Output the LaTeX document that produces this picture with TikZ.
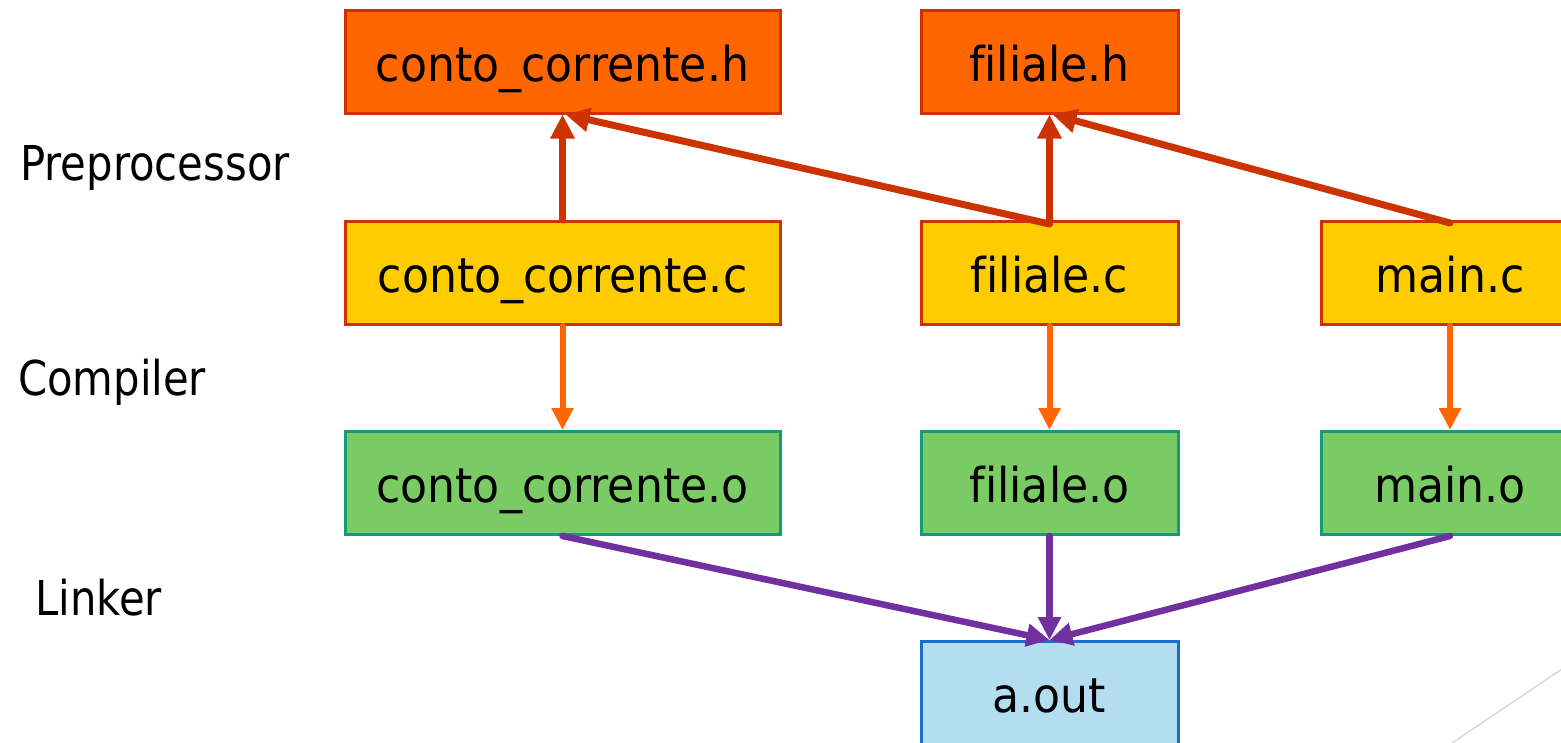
\documentclass[tikz,border=0pt]{standalone}
\usepackage{fontspec}
\setmainfont{DejaVu Sans}[FakeStretch=0.92, Ligatures=NoCommon]
\newfontfamily\lblfont{DejaVu Sans}[FakeStretch=0.87, Ligatures=NoCommon]
\usetikzlibrary{arrows.meta}
\definecolor{hfill}{HTML}{FF6600}
\definecolor{redline}{HTML}{CC3300}
\definecolor{cfill}{HTML}{FFCC00}
\definecolor{ofill}{HTML}{7ACB64}
\definecolor{oline}{HTML}{169B78}
\definecolor{afill}{HTML}{B4DDF2}
\definecolor{aline}{HTML}{1B6ECB}
\definecolor{purp}{HTML}{7030A0}
\definecolor{grayline}{HTML}{D9D9D9}
\tikzset{
  filebox/.style={draw, line width=3pt, inner sep=0pt, minimum height=103pt,
    font=\fontsize{48}{48}\selectfont, text height=39pt, text depth=0pt},
  hbox/.style={filebox, fill=hfill, draw=redline},
  cbox/.style={filebox, fill=cfill, draw=redline},
  obox/.style={filebox, fill=ofill, draw=oline},
  abox/.style={filebox, fill=afill, draw=aline},
  wide/.style={minimum width=435pt},
  narrow/.style={minimum width=257pt},
  stage/.style={anchor=base west, inner sep=0pt, font=\lblfont\fontsize{48}{48}\selectfont},
  incl/.style={draw=redline, line width=7pt, line cap=round, -{Triangle[length=24pt,width=23pt]}},
  comp/.style={draw=hfill, line width=6pt, line cap=round, -{Triangle[length=22pt,width=21pt]}},
  link/.style={draw=purp, line width=6.5pt, line cap=round, -{Triangle[length=23pt,width=22pt]}}
}
\begin{document}
\begin{tikzpicture}[x=1pt,y=-1pt]
\path[use as bounding box] (0,0) rectangle (1561,742);
\clip (0,0) rectangle (1561,742);
\fill[white] (0,0) rectangle (1561,742);
% gray decoration line
\draw[grayline, line width=1.5pt] (1562,669) -- (1452,743);
% stage labels
\node[stage] (lpre) at (20,180) {Preprocessor};
\node[stage] (lcomp) at (18,395) {Compiler};
\node[stage] (llink) at (35,615) {Linker};
% boxes
\node[hbox, wide] (cch) at (562.5,61.5) {conto\_corrente.h};
\node[hbox, narrow] (fh) at (1049.5,61.5) {filiale.h};
\node[cbox, wide] (ccc) at (562.5,273) {conto\_corrente.c};
\node[cbox, narrow] (fc) at (1049.5,273) {filiale.c};
\node[cbox, minimum width=258pt] (mc) at (1450,273) {main.c};
\node[obox, wide] (cco) at (562.5,483) {conto\_corrente.o};
\node[obox, narrow] (fo) at (1049.5,483) {filiale.o};
\node[obox, minimum width=258pt] (mo) at (1450,483) {main.o};
\node[abox, narrow] (aout) at (1049.5,693) {a.out};
% preprocessor arrows
\draw[incl] (ccc.north) -- (cch.south);
\draw[incl] ([yshift=-4pt]fc.north) -- ([xshift=3pt]cch.south);
\draw[incl] (fc.north) -- (fh.south);
\draw[incl] ([yshift=-3pt]mc.north) -- ([xshift=3pt]fh.south);
% compiler arrows
\draw[comp] (ccc.south) -- (cco.north);
\draw[comp] (fc.south) -- (fo.north);
\draw[comp] (mc.south) -- (mo.north);
% linker arrows
\draw[link] (cco.south) -- (aout.north);
\draw[link] (fo.south) -- (aout.north);
\draw[link] (mo.south) -- (aout.north);
\end{tikzpicture}
\end{document}
